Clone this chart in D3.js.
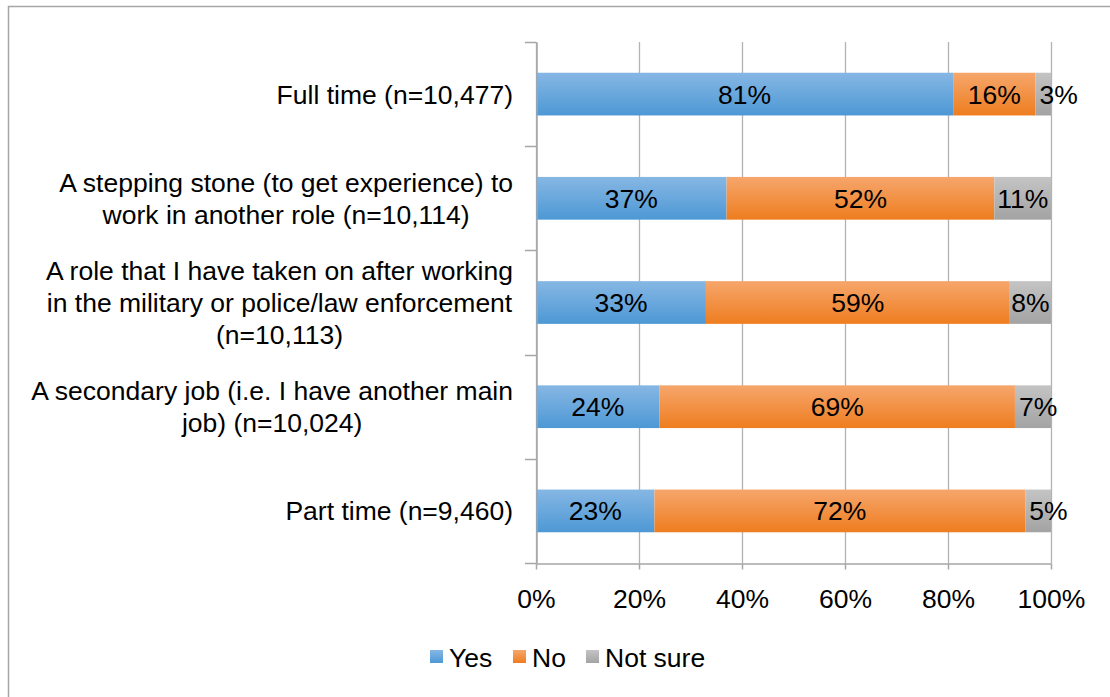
<!DOCTYPE html>
<html>
<head>
<meta charset="utf-8">
<script src="https://cdn.jsdelivr.net/npm/d3@7"></script>
<style>
  html, body { margin: 0; padding: 0; background: #fff; }
  svg { display: block; font-family: "Liberation Sans", Arial, sans-serif; }
</style>
</head>
<body>
<svg id="chart" width="1110" height="697"></svg>
<script>
// Survey responses: how respondents describe their role
const categories = [
  ["Full time (n=10,477)"],
  ["A stepping stone (to get experience) to", "work in another role (n=10,114)"],
  ["A role that I have taken on after working", "in the military or police/law enforcement", "(n=10,113)"],
  ["A secondary job (i.e. I have another main", "job) (n=10,024)"],
  ["Part time (n=9,460)"]
];
const seriesNames = ["Yes", "No", "Not sure"];
const yesValues = [81, 37, 33, 24, 23];
const noValues = [16, 52, 59, 69, 72];
const notSureValues = [3, 11, 8, 7, 5];
const tickValues = [0, 20, 40, 60, 80, 100];

const svg = d3.select("#chart");
const W = 1110, H = 697;
const FS = 26.5;
const plot = { left: 536, right: 1051, top: 42, bottom: 563 };

// Gradient fills for the three series
const gradStops = [
  ["#86b7e4", "#4d98d5"],
  ["#f6a66c", "#ee7d1f"],
  ["#c4c4c4", "#a3a3a3"]
];
const defs = svg.append("defs");
gradStops.forEach((s, i) => {
  const g = defs.append("linearGradient").attr("id", "g" + i)
    .attr("x1", 0).attr("y1", 0).attr("x2", 0).attr("y2", 1);
  g.append("stop").attr("offset", "0%").attr("stop-color", s[0]);
  g.append("stop").attr("offset", "100%").attr("stop-color", s[1]);
});

// Outer frame
svg.append("rect").attr("x", 8.5).attr("y", 6.5).attr("width", W + 10).attr("height", H + 10)
  .attr("fill", "none").attr("stroke", "#a6a6a6").attr("stroke-width", 1.5);

const x = d3.scaleLinear().domain([0, 100]).range([plot.left, plot.right]);
const y = d3.scaleBand().domain(d3.range(categories.length)).range([plot.top, plot.bottom]).paddingInner(0.59).paddingOuter(0.295);
const band = d3.scaleBand().domain(d3.range(categories.length)).range([plot.top, plot.bottom]);

// Vertical gridlines
svg.append("g").selectAll("line").data(tickValues).join("line")
  .attr("x1", d => Math.round(x(d)) + 0.5).attr("x2", d => Math.round(x(d)) + 0.5)
  .attr("y1", plot.top).attr("y2", plot.bottom)
  .attr("stroke", "#b3b3b3").attr("stroke-width", 1.3);

// Stacked bars
const stackData = categories.map((c, i) => ({ i, Yes: yesValues[i], No: noValues[i], "Not sure": notSureValues[i] }));
const stacked = d3.stack().keys(seriesNames)(stackData);

const layers = svg.append("g").selectAll("g").data(stacked).join("g")
  .attr("fill", (d, k) => `url(#g${k})`);
layers.selectAll("rect").data(d => d).join("rect")
  .attr("x", d => x(d[0]))
  .attr("y", d => y(d.data.i))
  .attr("width", d => x(d[1]) - x(d[0]))
  .attr("height", y.bandwidth());

// Value labels: centred on each segment; labels wider than a narrow
// segment start just inside its left edge instead
layers.each(function (layer) {
  d3.select(this).selectAll("text").data(layer).join("text")
    .attr("y", d => y(d.data.i) + y.bandwidth() / 2)
    .attr("dy", "0.36em")
    .attr("font-size", FS)
    .attr("fill", "#000")
    .text(d => (d[1] - d[0]) + "%")
    .each(function (d) {
      const w = this.getComputedTextLength();
      const segW = x(d[1]) - x(d[0]);
      const t = d3.select(this);
      if (w > segW) {
        t.attr("text-anchor", "start").attr("x", x(d[0]) + 4);
      } else {
        t.attr("text-anchor", "middle").attr("x", (x(d[0]) + x(d[1])) / 2);
      }
    });
});

// Category axis (left)
const yAxis = d3.axisLeft(band).tickSizeOuter(0).tickSize(0).tickFormat("");
svg.append("g").attr("transform", `translate(${plot.left + 0.5},0)`).call(yAxis)
  .select(".domain").attr("stroke", "#a6a6a6").attr("stroke-width", 1.5);
// boundary tick marks between categories
svg.append("g").selectAll("line").data(d3.range(categories.length + 1)).join("line")
  .attr("x1", plot.left - 11).attr("x2", plot.left)
  .attr("y1", d => Math.round(d === categories.length ? plot.bottom : band(d)) + 0.5)
  .attr("y2", d => Math.round(d === categories.length ? plot.bottom : band(d)) + 0.5)
  .attr("stroke", "#a6a6a6").attr("stroke-width", 1.5);

// Category labels: a right-aligned block whose lines are centred on each other
const lineH = 32;
const labelRight = 513;
svg.append("g").selectAll("g").data(categories).join("g")
  .each(function (lines, i) {
    const cy = band(i) + band.bandwidth() / 2;
    const g = d3.select(this);
    const texts = lines.map((ln, j) => g.append("text")
      .attr("font-size", FS)
      .attr("fill", "#000")
      .attr("text-anchor", "middle")
      .attr("y", cy + (j - (lines.length - 1) / 2) * lineH)
      .attr("dy", "0.36em")
      .text(ln));
    const maxW = d3.max(texts, t => t.node().getComputedTextLength());
    texts.forEach(t => t.attr("x", labelRight - maxW / 2));
  });

// Value axis (bottom)
const xAxis = d3.axisBottom(x).tickValues(tickValues).tickFormat(d => d + "%").tickSize(6).tickSizeOuter(0).tickPadding(20);
const xg = svg.append("g").attr("transform", `translate(0,${plot.bottom + 0.5})`).call(xAxis);
xg.select(".domain").attr("stroke", "#a6a6a6").attr("stroke-width", 1.5);
xg.selectAll(".tick line").attr("stroke", "#a6a6a6").attr("stroke-width", 1.5);
xg.selectAll(".tick text").attr("font-size", FS).attr("fill", "#000")
  .attr("font-family", "'Liberation Sans', Arial, sans-serif");

// Legend
const legendX = [430, 513, 586];
const legend = svg.append("g").selectAll("g").data(seriesNames).join("g")
  .attr("transform", (d, i) => `translate(${legendX[i]},650)`);
legend.append("rect").attr("width", 13).attr("height", 13)
  .attr("fill", (d, i) => `url(#g${i})`);
legend.append("text").attr("x", 19).attr("y", 7).attr("dy", "0.36em")
  .attr("font-size", FS).attr("fill", "#000").text(d => d);
</script>
</body>
</html>
